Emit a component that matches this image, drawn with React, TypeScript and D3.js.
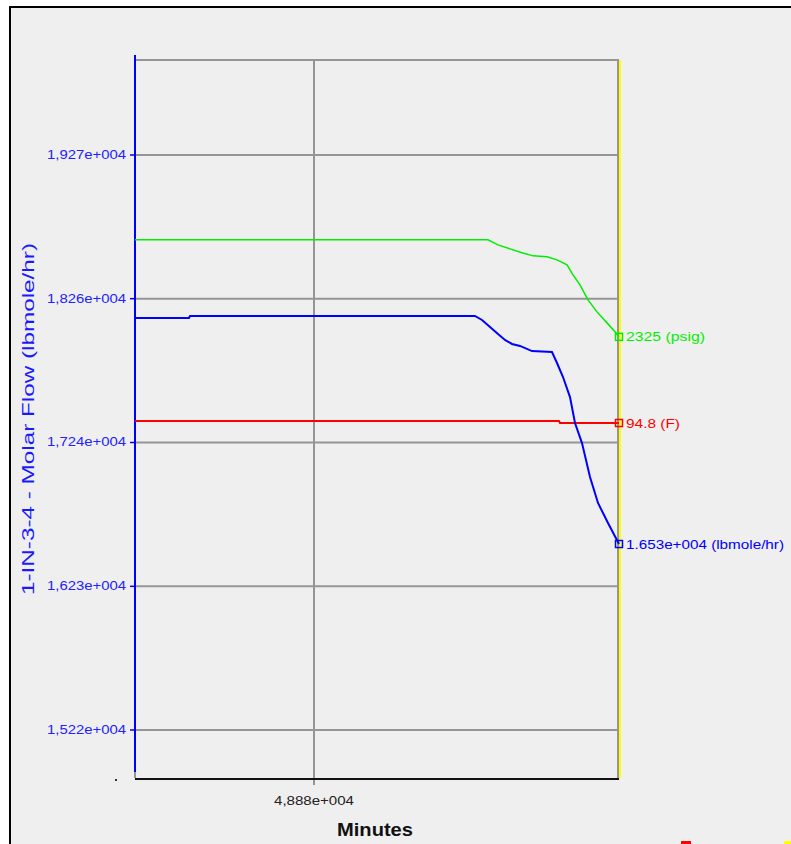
import React from "react";
import * as d3 from "d3";

const W = 791;
const H = 844;

// Left axis (Molar Flow, lbmole/hr)
const yTickValues = [15220, 16232, 17245, 18258, 19270];
const yTickLabels = ["1,522e+004", "1,623e+004", "1,724e+004", "1,826e+004", "1,927e+004"];
const yDomain = [14882, 19939];

// X axis (Minutes)
const xDomain = [48701, 49185];
const xTickValues = [48880];
const xTickLabels = ["4,888e+004"];

// Molar flow (lbmole/hr)
const flowTime = [48701, 48755, 48756, 49041, 49048, 49056, 49064, 49071, 49078, 49086, 49098, 49118, 49123, 49129, 49136, 49141, 49148, 49156, 49164, 49174, 49185];
const flowValue = [18122, 18122, 18136, 18136, 18108, 18058, 18009, 17967, 17939, 17925, 17889, 17882, 17805, 17706, 17565, 17382, 17241, 17002, 16819, 16678, 16530];

// Pressure (psig) - hidden axis
const presDomain = [1984, 2539];
const presTime = [48701, 49054, 49064, 49076, 49088, 49099, 49113, 49123, 49133, 49139, 49146, 49154, 49163, 49173, 49181, 49185];
const presValue = [2400, 2400, 2396.1, 2393.0, 2390.0, 2387.6, 2386.9, 2384.5, 2380.7, 2372.9, 2365.2, 2353.6, 2344.3, 2335.8, 2328.9, 2325];

// Temperature (F) - hidden axis
const tempDomain = [59.3, 131.1];
const tempTime = [48701, 49125, 49126, 49185];
const tempValue = [95.0, 95.0, 94.8, 94.8];

const endLabels = ["2325 (psig)", "94.8 (F)", "1.653e+004 (lbmole/hr)"];

const FONT = "'Liberation Sans', Arial, sans-serif";

export default function App() {
  const left = 135, right = 619, top = 60, bottom = 778;
  const x = d3.scaleLinear().domain(xDomain).range([left, right]);
  const y = d3.scaleLinear().domain(yDomain).range([bottom, top]);
  const yP = d3.scaleLinear().domain(presDomain).range([bottom, top]);
  const yT = d3.scaleLinear().domain(tempDomain).range([bottom, top]);

  const mk = (ts: number[], vs: number[], sc: d3.ScaleLinear<number, number>) =>
    d3.line<number>().x((_, i) => x(ts[i])).y((v) => sc(v))(vs) || "";

  const flowPath = mk(flowTime, flowValue, y);
  const presPath = mk(presTime, presValue, yP);
  const tempPath = mk(tempTime, tempValue, yT);

  const ends = [
    { y: yP(presValue[presValue.length - 1]), color: "#00ee00", text: endLabels[0], len: 79 },
    { y: yT(tempValue[tempValue.length - 1]), color: "#ff0000", text: endLabels[1], len: 54 },
    { y: y(flowValue[flowValue.length - 1]), color: "#0000ff", text: endLabels[2], len: 158 },
  ];
  const xe = x(xDomain[1]);

  return (
    <svg width={W} height={H} style={{ position: "absolute", left: 0, top: 0, background: "#ffffff" }}>
      <rect x={10} y={7} width={W} height={H} fill="#efefef" stroke="#000" strokeWidth={2} />
      {/* horizontal grid */}
      {[top, ...yTickValues.map((v) => y(v))].map((gy, i) => (
        <line key={"hg" + i} x1={left} x2={right} y1={gy} y2={gy} stroke="#959595" strokeWidth={2} />
      ))}
      {/* vertical grid */}
      {xTickValues.map((v, i) => (
        <line key={"vg" + i} x1={x(v)} x2={x(v)} y1={top} y2={bottom + 7} stroke="#959595" strokeWidth={2} />
      ))}
      <line x1={right - 1} x2={right - 1} y1={top} y2={bottom} stroke="#959595" strokeWidth={2} />
      <line x1={right + 1} x2={right + 1} y1={top} y2={bottom} stroke="#ffff00" strokeWidth={2} />
      {/* bottom axis */}
      <line x1={left} x2={right} y1={bottom + 1} y2={bottom + 1} stroke="#111" strokeWidth={2} />
      {/* left axis */}
      <line x1={left} x2={left} y1={top - 3} y2={bottom - 6} stroke="#0000ff" strokeWidth={2} />
      <line x1={left} x2={left} y1={bottom - 6} y2={bottom} stroke="#959595" strokeWidth={2} />
      <rect x={134} y={55} width={2} height={2} fill="#0000ff" />
      <rect x={115} y={779} width={2} height={2} fill="#333" />
      {/* y ticks */}
      {yTickValues.map((v, i) => (
        <g key={"yt" + i}>
          <line x1={left - 5} x2={left} y1={y(v)} y2={y(v)} stroke="#0000ff" strokeWidth={1.5} />
          <text x={126} y={y(v) + 4} textAnchor="end" fontFamily={FONT} fontSize={12} fill="#2222ff" textLength={79} lengthAdjust="spacingAndGlyphs">
            {yTickLabels[i]}
          </text>
        </g>
      ))}
      {/* x ticks */}
      {xTickValues.map((v, i) => (
        <text key={"xt" + i} x={x(v)} y={805} textAnchor="middle" fontFamily={FONT} fontSize={12} fill="#222" textLength={80} lengthAdjust="spacingAndGlyphs">
          {xTickLabels[i]}
        </text>
      ))}
      <text x={375} y={836} textAnchor="middle" fontFamily={FONT} fontSize={18} fontWeight="bold" fill="#111" textLength={76} lengthAdjust="spacingAndGlyphs">
        Minutes
      </text>
      <text transform="translate(34,419) rotate(-90)" textAnchor="middle" fontFamily={FONT} fontSize={17} fill="#1a1aff" textLength={352} lengthAdjust="spacingAndGlyphs">
        1-IN-3-4 - Molar Flow (lbmole/hr)
      </text>
      {/* series */}
      <path d={tempPath} fill="none" stroke="#ff0000" strokeWidth={2} />
      <path d={presPath} fill="none" stroke="#00ee00" strokeWidth={1.5} />
      <path d={flowPath} fill="none" stroke="#0000ff" strokeWidth={2} />
      {ends.map((e, i) => (
        <g key={"end" + i}>
          <rect x={xe - 3.5} y={e.y - 3.5} width={7} height={7} fill="none" stroke={e.color} strokeWidth={1.5} />
          <text x={626} y={e.y + 4.5} fontFamily={FONT} fontSize={12.5} fill={e.color} textLength={e.len} lengthAdjust="spacingAndGlyphs">
            {e.text}
          </text>
        </g>
      ))}
      {/* cut-off marks at bottom */}
      <rect x={681} y={841} width={10} height={3} fill="#ff0000" />
      <rect x={784} y={841} width={7} height={3} fill="#ffff00" />
    </svg>
  );
}
